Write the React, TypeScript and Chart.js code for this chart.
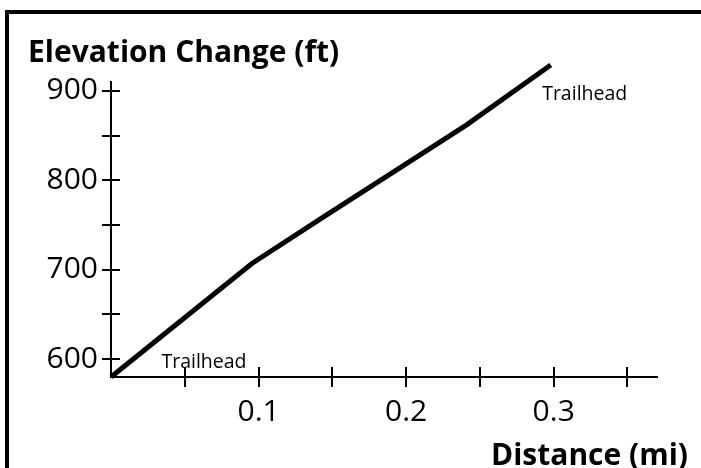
import React, { useEffect, useRef } from "react";
import { Chart, registerables } from "chart.js";

Chart.register(...registerables);

// Distance (mi) and elevation (ft) along the trail
const distances = [0, 0.0955, 0.143, 0.191, 0.241, 0.298];
const elevations = [580, 707, 758, 809, 862, 929];

const xTickValues = [0.05, 0.1, 0.15, 0.2, 0.25, 0.3, 0.35];
const xTickLabels = ["", "0.1", "", "0.2", "", "0.3", ""];
const yTickValues = [600, 650, 700, 750, 800, 850, 900];
const yTickLabels = ["600", "", "700", "", "800", "", "900"];

const labelTexts = ["Trailhead", "Trailhead"];
const labelX = [0.063, 0.321];
const labelY = [590, 890];

const yTitle = "Elevation Change (ft)";
const xTitle = "Distance (mi)";

const W = 701;
const H = 468;
const FONT = "'Open Sans', sans-serif";

export default function App() {
  const ref = useRef<HTMLCanvasElement | null>(null);

  useEffect(() => {
    if (!ref.current) return;

    const crossTicks = {
      id: "crossTicks",
      afterDraw(chart: any) {
        const ctx = chart.ctx;
        const xs = chart.scales.x;
        const ys = chart.scales.y;
        const area = chart.chartArea;
        ctx.save();
        ctx.strokeStyle = "#000";
        ctx.lineWidth = 2;
        ctx.beginPath();
        xTickValues.forEach((v) => {
          const px = Math.round(xs.getPixelForValue(v));
          ctx.moveTo(px, area.bottom - 10);
          ctx.lineTo(px, area.bottom + 10);
        });
        yTickValues.forEach((v) => {
          const py = Math.round(ys.getPixelForValue(v));
          ctx.moveTo(area.left - 9, py);
          ctx.lineTo(area.left + 9, py);
        });
        ctx.stroke();

        ctx.fillStyle = "#000";
        ctx.font = "19.5px " + FONT;
        ctx.textAlign = "center";
        ctx.textBaseline = "alphabetic";
        labelTexts.forEach((t, i) => {
          ctx.fillText(t, xs.getPixelForValue(labelX[i]), ys.getPixelForValue(labelY[i]));
        });

        ctx.font = "bold 30px " + FONT;
        ctx.textAlign = "left";
        ctx.fillText(yTitle, 28, 62);
        ctx.textAlign = "right";
        ctx.fillText(xTitle, 688, 465);
        ctx.restore();
      },
    };

    const chart = new Chart(ref.current, {
      type: "scatter",
      data: {
        datasets: [
          {
            data: distances.map((d, i) => ({ x: d, y: elevations[i] })),
            showLine: true,
            borderColor: "#000",
            backgroundColor: "#000",
            borderWidth: 5,
            pointRadius: 0,
            clip: false as any,
          },
        ],
      },
      options: {
        animation: false,
        responsive: false,
        layout: { padding: { left: 0, top: 82, right: 44, bottom: 0 } },
        plugins: {
          legend: { display: false },
          tooltip: { enabled: false },
          title: { display: false },
        },
        scales: {
          x: {
            type: "linear",
            min: 0,
            max: 0.37,
            grid: { display: false, drawTicks: false },
            border: { display: true, color: "#000", width: 2 },
            afterFit: (s: any) => {
              s.height = 91;
            },
            afterBuildTicks: (s: any) => {
              s.ticks = xTickValues.map((v) => ({ value: v }));
            },
            ticks: {
              autoSkip: false,
              maxRotation: 0,
              padding: 17,
              color: "#000",
              font: { family: FONT, size: 30 },
              callback: (v: any) => {
                const i = xTickValues.findIndex((t) => Math.abs(t - Number(v)) < 1e-9);
                return i >= 0 ? xTickLabels[i] : "";
              },
            },
          },
          y: {
            type: "linear",
            min: 580,
            max: 910,
            grid: { display: false, drawTicks: false },
            border: { display: true, color: "#000", width: 2 },
            afterFit: (s: any) => {
              s.width = 111;
            },
            afterBuildTicks: (s: any) => {
              s.ticks = yTickValues.map((v) => ({ value: v }));
            },
            ticks: {
              autoSkip: false,
              padding: 13,
              color: "#000",
              font: { family: FONT, size: 30 },
              callback: (v: any) => {
                const i = yTickValues.findIndex((t) => Math.abs(t - Number(v)) < 1e-9);
                return i >= 0 ? yTickLabels[i] : "";
              },
            },
          },
        },
      },
      plugins: [crossTicks],
    });

    return () => chart.destroy();
  }, []);

  return (
    <div
      style={{
        position: "fixed",
        left: 0,
        top: 0,
        width: W,
        height: H,
        overflow: "hidden",
        background: "#fff",
      }}
    >
      <div
        style={{
          position: "absolute",
          left: 5,
          top: 10,
          width: 900,
          height: 700,
          border: "4px solid #000",
          boxSizing: "border-box",
        }}
      />
      <canvas
        ref={ref}
        width={W}
        height={H}
        style={{ position: "absolute", left: 0, top: 0, width: W, height: H }}
      />
    </div>
  );
}
